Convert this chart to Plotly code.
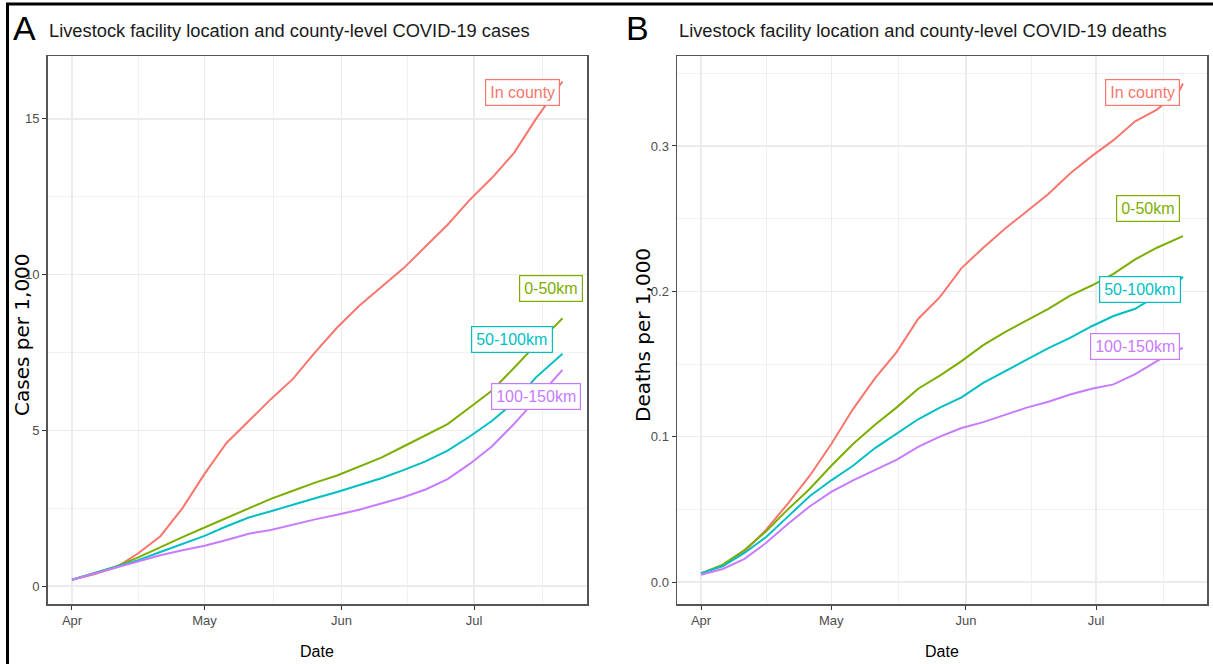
import pandas as pd
import plotly.graph_objects as go

# ---------------- data ----------------
day_offsets = [0, 5, 10, 15, 20, 25, 30, 35, 40, 45, 50, 55, 60, 65, 70, 75,
               80, 85, 90, 95, 100, 105, 110, 111]
start_date = pd.Timestamp("2020-04-01")
dates = [start_date + pd.Timedelta(days=d) for d in day_offsets]

series_names = ["In county", "0-50km", "50-100km", "100-150km"]
series_colors = ["#F8766D", "#7CAE00", "#00BFC4", "#C77CFF"]

cases_in_county = [0.2, 0.38, 0.6, 1.05, 1.6, 2.5, 3.6, 4.6, 5.3, 6.0, 6.65, 7.5,
                   8.3, 9.0, 9.6, 10.2, 10.9, 11.6, 12.4, 13.1, 13.9, 15.0, 16.0, 16.2]
cases_0_50 = [0.2, 0.42, 0.63, 0.92, 1.25, 1.57, 1.88, 2.19, 2.5, 2.8, 3.06, 3.32,
              3.55, 3.83, 4.12, 4.48, 4.84, 5.2, 5.73, 6.27, 7.0, 7.75, 8.45, 8.6]
cases_50_100 = [0.2, 0.41, 0.62, 0.83, 1.09, 1.34, 1.61, 1.92, 2.2, 2.4, 2.62, 2.82,
                3.02, 3.24, 3.46, 3.72, 4.0, 4.35, 4.8, 5.3, 5.9, 6.7, 7.35, 7.46]
cases_100_150 = [0.2, 0.4, 0.6, 0.8, 0.99, 1.15, 1.29, 1.48, 1.68, 1.8, 1.98, 2.14,
                 2.29, 2.45, 2.65, 2.85, 3.1, 3.43, 3.92, 4.48, 5.2, 6.0, 6.8, 6.94]

deaths_in_county = [0.006, 0.011, 0.021, 0.036, 0.054, 0.073, 0.095, 0.119, 0.14, 0.158,
                    0.181, 0.196, 0.216, 0.23, 0.243, 0.255, 0.267, 0.281, 0.293, 0.304,
                    0.317, 0.325, 0.337, 0.343]
deaths_0_50 = [0.006, 0.012, 0.022, 0.035, 0.05, 0.064, 0.08, 0.095, 0.108, 0.12,
               0.133, 0.142, 0.152, 0.163, 0.172, 0.18, 0.188, 0.197, 0.204, 0.212,
               0.222, 0.23, 0.237, 0.238]
deaths_50_100 = [0.006, 0.011, 0.02, 0.031, 0.045, 0.059, 0.07, 0.08, 0.092, 0.102,
                 0.112, 0.12, 0.127, 0.137, 0.145, 0.153, 0.161, 0.168, 0.176, 0.183,
                 0.188, 0.197, 0.207, 0.21]
deaths_100_150 = [0.005, 0.009, 0.016, 0.027, 0.04, 0.052, 0.062, 0.07, 0.077, 0.084,
                  0.093, 0.1, 0.106, 0.11, 0.115, 0.12, 0.124, 0.129, 0.133, 0.136,
                  0.143, 0.152, 0.16, 0.161]

cases_series = [cases_in_county, cases_0_50, cases_50_100, cases_100_150]
deaths_series = [deaths_in_county, deaths_0_50, deaths_50_100, deaths_100_150]

# label anchor positions (date, value) for the repel-style labels
cases_label_dates = ["2020-07-12", "2020-07-18 12:00", "2020-07-09 12:00", "2020-07-15"]
cases_label_values = [15.85, 9.55, 7.9, 6.1]
deaths_label_dates = ["2020-07-11 18:00", "2020-07-13", "2020-07-11", "2020-07-10"]
deaths_label_values = [0.3365, 0.2567, 0.201, 0.162]

month_ticks = ["2020-04-01", "2020-05-01", "2020-06-01", "2020-07-01"]
month_labels = ["Apr", "May", "Jun", "Jul"]
minor_ticks = ["2020-04-16", "2020-05-16 12:00", "2020-06-16", "2020-07-16 12:00"]
cases_ticks = [0, 5, 10, 15]
deaths_ticks = [0.0, 0.1, 0.2, 0.3]
x_range = ["2020-03-26 11:00", "2020-07-26 13:00"]

# ---------------- figure ----------------
W, H = 1213, 664
SANS = "Liberation Sans, Arial, sans-serif"


def fx(p):
    return p / W


def fy(p):
    return 1 - p / H


fig = go.Figure()
for name, col, ys in zip(series_names, series_colors, cases_series):
    fig.add_trace(go.Scatter(x=dates, y=ys, mode="lines", name=name,
                             line=dict(color=col, width=2), xaxis="x", yaxis="y",
                             showlegend=False))
for name, col, ys in zip(series_names, series_colors, deaths_series):
    fig.add_trace(go.Scatter(x=dates, y=ys, mode="lines", name=name,
                             line=dict(color=col, width=2), xaxis="x2", yaxis="y2",
                             showlegend=False))

grid_col = "#EBEBEB"
common_x = dict(type="date", range=x_range, tickmode="array", tickvals=month_ticks,
                ticktext=month_labels, showgrid=True, gridcolor=grid_col, gridwidth=1.3,
                minor=dict(tickmode="array", tickvals=minor_ticks, showgrid=True,
                           gridcolor=grid_col, gridwidth=0.7, ticks=""),
                showline=True, mirror=True, linecolor="#555555", linewidth=1.5,
                ticks="outside", ticklen=4, tickcolor="#333333", tickwidth=1,
                tickfont=dict(family=SANS, size=13, color="#4D4D4D"),
                zeroline=False)
common_y = dict(showgrid=True, gridcolor=grid_col, gridwidth=1.3,
                showline=True, mirror=True, linecolor="#555555", linewidth=1.5,
                ticks="outside", ticklen=4, tickcolor="#333333", tickwidth=1,
                tickfont=dict(family=SANS, size=13, color="#4D4D4D"),
                zeroline=False, tickmode="array")

plot_top, plot_bot = 56, 604
fig.update_layout(
    width=W, height=H, margin=dict(l=0, r=0, t=0, b=0),
    paper_bgcolor="white", plot_bgcolor="white", hovermode=False,
    xaxis=dict(domain=[fx(47.5), fx(587)], anchor="y", **common_x),
    yaxis=dict(domain=[fy(plot_bot), fy(plot_top)], anchor="x", range=[-0.578, 17.02],
               tickvals=cases_ticks, ticktext=[str(v) for v in cases_ticks],
               minor=dict(tickmode="array", tickvals=[2.5, 7.5, 12.5], showgrid=True,
                          gridcolor=grid_col, gridwidth=0.7, ticks=""),
               **common_y),
    xaxis2=dict(domain=[fx(677), fx(1207)], anchor="y2", **common_x),
    yaxis2=dict(domain=[fy(plot_bot), fy(plot_top)], anchor="x2", range=[-0.0151, 0.3619],
                tickvals=deaths_ticks, ticktext=[f"{v:.1f}" for v in deaths_ticks],
                minor=dict(tickmode="array", tickvals=[0.05, 0.15, 0.25, 0.35], showgrid=True,
                           gridcolor=grid_col, gridwidth=0.7, ticks=""),
                **common_y),
)

ann = []
# panel letters and titles
for letter, lx, title, tx in [("A", 11, "Livestock facility location and county-level COVID-19 cases", 47),
                              ("B", 624, "Livestock facility location and county-level COVID-19 deaths", 677)]:
    ann.append(dict(text=letter, x=fx(lx), y=fy(28), xref="paper", yref="paper",
                    xanchor="left", yanchor="middle", showarrow=False,
                    font=dict(family=SANS, size=34, color="#000000")))
    ann.append(dict(text=title, x=fx(tx), y=fy(30), xref="paper", yref="paper",
                    xanchor="left", yanchor="middle", showarrow=False,
                    font=dict(family=SANS, size=18.3, color="#1A1A1A")))
# axis titles
for txt, px in [("Date", 317), ("Date", 942)]:
    ann.append(dict(text=txt, x=fx(px), y=fy(651), xref="paper", yref="paper",
                    xanchor="center", yanchor="middle", showarrow=False,
                    font=dict(family=SANS, size=16, color="#000000")))
for txt, px in [("Cases per 1,000", 22), ("Deaths per 1,000", 643)]:
    ann.append(dict(text=txt, x=fx(px), y=fy(335), xref="paper", yref="paper",
                    xanchor="center", yanchor="middle", showarrow=False, textangle=-90,
                    font=dict(family="DejaVu Sans, sans-serif", size=20, color="#000000")))
# series labels
for name, col, d, v in zip(series_names, series_colors, cases_label_dates, cases_label_values):
    ann.append(dict(text=name, x=d, y=v, xref="x", yref="y", showarrow=False,
                    xanchor="center", yanchor="middle", bgcolor="white", bordercolor=col,
                    borderwidth=1.2, borderpad=4,
                    font=dict(family=SANS, size=16, color=col)))
for name, col, d, v in zip(series_names, series_colors, deaths_label_dates, deaths_label_values):
    ann.append(dict(text=name, x=d, y=v, xref="x2", yref="y2", showarrow=False,
                    xanchor="center", yanchor="middle", bgcolor="white", bordercolor=col,
                    borderwidth=1.2, borderpad=4,
                    font=dict(family=SANS, size=16, color=col)))
fig.update_layout(annotations=ann)

# outer black frame (top and left edges visible in the reference)
fig.update_layout(shapes=[
    dict(type="line", xref="paper", yref="paper", x0=fx(6), x1=1, y0=fy(4), y1=fy(4),
         line=dict(color="black", width=3)),
    dict(type="line", xref="paper", yref="paper", x0=fx(7.5), x1=fx(7.5), y0=0, y1=fy(3),
         line=dict(color="black", width=3)),
])

fig.write_html("out.html", config={"displayModeBar": False, "staticPlot": True},
               post_script="document.body.style.margin='0px';document.body.style.padding='0px';")
